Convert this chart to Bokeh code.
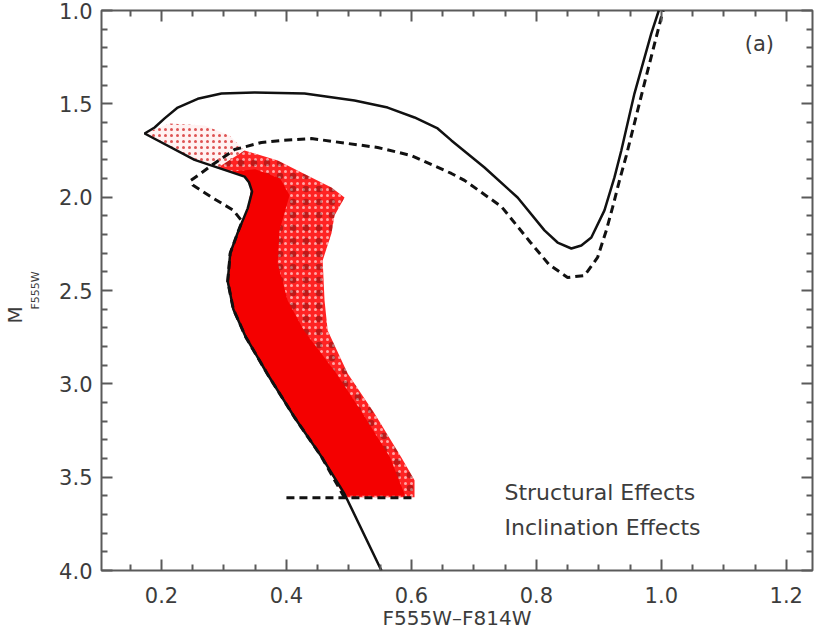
from bokeh.plotting import figure
from bokeh.models import Range1d, FixedTicker, LinearAxis, Label, NumeralTickFormatter, Title
from bokeh.embed import file_html
from bokeh.resources import INLINE

# ---- tick values ----
x_ticks = [0.2, 0.4, 0.6, 0.8, 1.0, 1.2]
x_minor = [0.15, 0.25, 0.3, 0.35, 0.45, 0.5, 0.55, 0.65, 0.7, 0.75,
           0.85, 0.9, 0.95, 1.05, 1.1, 1.15]
y_ticks = [1.0, 1.5, 2.0, 2.5, 3.0, 3.5, 4.0]
y_minor = [1.1, 1.2, 1.3, 1.4, 1.6, 1.7, 1.8, 1.9, 2.1, 2.2, 2.3, 2.4,
           2.6, 2.7, 2.8, 2.9, 3.1, 3.2, 3.3, 3.4, 3.6, 3.7, 3.8, 3.9]

# ---- solid isochrone (structural effects) ----
solid_x = [0.552, 0.493, 0.456, 0.413, 0.370, 0.335, 0.315, 0.306, 0.310, 0.322,
           0.338, 0.345, 0.340, 0.333, 0.253, 0.173, 0.189, 0.205, 0.226, 0.258, 0.296,
           0.349, 0.429, 0.509, 0.562, 0.605, 0.642, 0.664, 0.717, 0.770, 0.813,
           0.834, 0.856, 0.872, 0.888, 0.909, 0.925, 0.936, 0.957, 0.984, 0.996]
solid_y = [4.00, 3.59, 3.39, 3.18, 2.95, 2.75, 2.60, 2.45, 2.30, 2.19,
           2.06, 1.97, 1.92, 1.89, 1.80, 1.659, 1.627, 1.578, 1.520, 1.473, 1.445,
           1.439, 1.445, 1.482, 1.520, 1.573, 1.632, 1.696, 1.841, 2.002, 2.178,
           2.243, 2.275, 2.259, 2.216, 2.071, 1.894, 1.750, 1.445, 1.123, 1.000]

# ---- dashed isochrone (inclination effects) ----
dash_x = [0.493, 0.456, 0.413, 0.370, 0.335, 0.315, 0.306, 0.310, 0.322, 0.329,
          0.315, 0.280, 0.250, 0.247, 0.262, 0.280, 0.317, 0.360, 0.392, 0.440,
          0.546, 0.600, 0.664, 0.685, 0.744, 0.790, 0.820, 0.850, 0.877, 0.898,
          0.912, 0.922, 0.933, 0.944, 0.973, 1.000, 1.003]
dash_y = [3.61, 3.39, 3.18, 2.95, 2.75, 2.60, 2.45, 2.30, 2.19, 2.13,
          2.07, 2.00, 1.935, 1.91, 1.875, 1.83, 1.745, 1.707, 1.696, 1.686,
          1.734, 1.777, 1.873, 1.91, 2.05, 2.24, 2.36, 2.43, 2.42, 2.323,
          2.178, 2.055, 1.911, 1.777, 1.39, 1.037, 1.00]

# ---- magnitude cut ----
cut_x = [0.40, 0.605]
cut_y = [3.61, 3.61]

# ---- red star cloud outlines ----
tip_x = [0.173, 0.213, 0.269, 0.309, 0.333, 0.360, 0.333, 0.253]
tip_y = [1.659, 1.605, 1.616, 1.670, 1.750, 1.790, 1.890, 1.800]

env_x = [0.333, 0.386, 0.440, 0.472, 0.493, 0.477, 0.472, 0.458, 0.461, 0.466,
         0.498, 0.541, 0.584, 0.605, 0.605, 0.493, 0.456, 0.413, 0.370, 0.335,
         0.315, 0.306, 0.310, 0.322, 0.338, 0.344, 0.333, 0.290]
env_y = [1.750, 1.803, 1.894, 1.948, 2.002, 2.098, 2.194, 2.339, 2.553, 2.714,
         2.944, 3.159, 3.394, 3.517, 3.608, 3.608, 3.39, 3.18, 2.95, 2.75,
         2.60, 2.45, 2.30, 2.19, 2.06, 1.95, 1.89, 1.843]

core_x = [0.344, 0.338, 0.322, 0.310, 0.306, 0.315, 0.335, 0.370, 0.413, 0.456,
          0.493, 0.590, 0.566, 0.522, 0.480, 0.428, 0.402, 0.386, 0.389, 0.405,
          0.390, 0.350, 0.310, 0.333]
core_y = [1.95, 2.06, 2.19, 2.30, 2.45, 2.60, 2.75, 2.95, 3.18, 3.39,
          3.60, 3.60, 3.394, 3.159, 2.944, 2.714, 2.553, 2.355, 2.178, 1.99,
          1.90, 1.85, 1.864, 1.89]

FONT = "DejaVu Sans"
GREY = "#3c3c3c"
AXC = "#5a5a5a"

p = figure(frame_width=711, frame_height=560,
           x_range=Range1d(0.104, 1.242), y_range=Range1d(4.0, 1.0),
           output_backend="svg", toolbar_location=None,
           min_border_left=97, min_border_top=10, min_border_right=2, min_border_bottom=10,
           background_fill_color="white", border_fill_color="white")
p.grid.visible = False
p.outline_line_color = AXC
p.outline_line_width = 2

# star cloud
p.patch(tip_x, tip_y, fill_color="#ff2020", fill_alpha=0.06, line_color=None,
        hatch_pattern="dot", hatch_color="#d01010", hatch_scale=6, hatch_weight=1.2, hatch_alpha=0.7)
p.patch(env_x, env_y, fill_color="#ff1010", fill_alpha=0.92, line_color=None,
        hatch_pattern="dot", hatch_color="white", hatch_scale=6, hatch_weight=1.3, hatch_alpha=0.6)
p.patch(env_x, env_y, fill_color=None, line_color=None,
        hatch_pattern="dot", hatch_color="#300000", hatch_scale=13, hatch_weight=1.0, hatch_alpha=0.3)
p.patch(core_x, core_y, fill_color="#f40000", fill_alpha=1.0, line_color=None)

# isochrones
p.line(dash_x, dash_y, line_color="#111111", line_width=3, line_dash="8 5")
p.line(cut_x, cut_y, line_color="#111111", line_width=3, line_dash="8 5")
p.line(solid_x, solid_y, line_color="#111111", line_width=2.5)

# axes styling
def style(ax, show_labels=True):
    ax.axis_line_color = None
    ax.major_tick_in = 11
    ax.major_tick_out = 0
    ax.minor_tick_in = 6
    ax.minor_tick_out = 0
    ax.major_tick_line_color = AXC
    ax.minor_tick_line_color = AXC
    ax.major_tick_line_width = 2
    ax.minor_tick_line_width = 2
    ax.major_label_text_font = FONT
    if show_labels:
        ax.major_label_text_font_size = "21px"
        ax.major_label_text_color = GREY
    else:
        ax.major_label_text_font_size = "1px"
        ax.major_label_text_color = None
        ax.major_label_standoff = 0
    ax.axis_label_text_font = FONT
    ax.axis_label_text_font_style = "normal"
    ax.axis_label_text_color = GREY

xt = FixedTicker(ticks=x_ticks, minor_ticks=x_minor)
yt = FixedTicker(ticks=y_ticks, minor_ticks=y_minor)

p.xaxis.ticker = xt
p.yaxis.ticker = yt
p.xaxis.formatter = NumeralTickFormatter(format="0.0")
p.yaxis.formatter = NumeralTickFormatter(format="0.0")
style(p.xaxis[0])
style(p.yaxis[0])
p.xaxis.axis_label = "F555W\u2013F814W"
p.xaxis.axis_label_text_font_size = "20px"
p.xaxis.major_label_standoff = 16
p.xaxis.axis_label_standoff = 0
p.yaxis.major_label_standoff = 9
# subscript of the y label sits next to the tick labels
p.yaxis.axis_label = "F555W"
p.yaxis.axis_label_text_font_size = "11px"
p.yaxis.axis_label_standoff = 14

top = LinearAxis(ticker=xt, axis_label=None)
style(top, False)
p.add_layout(top, "above")
right = LinearAxis(ticker=yt, axis_label=None)
style(right, False)
p.add_layout(right, "right")

# main letter of the y label
p.add_layout(Title(text="M", align="left", offset=247, standoff=0,
                   text_font=FONT, text_font_size="20px", text_font_style="normal",
                   text_color=GREY), "left")

# annotations
p.add_layout(Label(x=1.157, y=1.182, text="(a)", text_align="center", text_baseline="middle",
                   text_font=FONT, text_font_size="21px", text_color=GREY))
p.add_layout(Label(x=0.749, y=3.58, text="Structural Effects", text_align="left",
                   text_baseline="middle", text_font=FONT, text_font_size="22px", text_color=GREY))
p.add_layout(Label(x=0.749, y=3.77, text="Inclination Effects", text_align="left",
                   text_baseline="middle", text_font=FONT, text_font_size="22px", text_color=GREY))

open("out.html", "w").write(file_html(p, INLINE))
